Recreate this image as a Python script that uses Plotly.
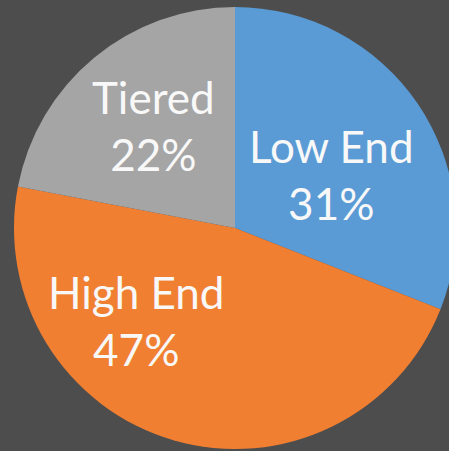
import plotly.graph_objects as go

# Market segment shares
segments = ["Low End", "High End", "Tiered"]
shares = [31, 47, 22]
colors = ["#5b9bd5", "#f07f32", "#a5a5a5"]

# Where each slice's label block sits (paper coordinates)
label_x = [0.718, 0.278, 0.315]
label_y = [0.622, 0.29, 0.732]

fig = go.Figure(
    go.Pie(
        labels=segments,
        values=shares,
        sort=False,
        direction="clockwise",
        rotation=0,
        marker=dict(colors=colors, line=dict(width=0)),
        textinfo="none",
        showlegend=False,
        hoverinfo="none",
    )
)

total = sum(shares)
for name, val, lx, ly in zip(segments, shares, label_x, label_y):
    fig.add_annotation(
        x=lx,
        y=ly,
        xref="paper",
        yref="paper",
        text=f"{name}<br>{round(100 * val / total)}%",
        showarrow=False,
        xanchor="center",
        yanchor="middle",
        align="center",
        font=dict(family="Lato", size=44, color="#f8f8f8"),
    )

fig.update_layout(
    width=456,
    height=451,
    margin=dict(l=14, r=0, t=7, b=2),
    paper_bgcolor="#4d4d4d",
    plot_bgcolor="#4d4d4d",
)

fig.write_html("out.html")
